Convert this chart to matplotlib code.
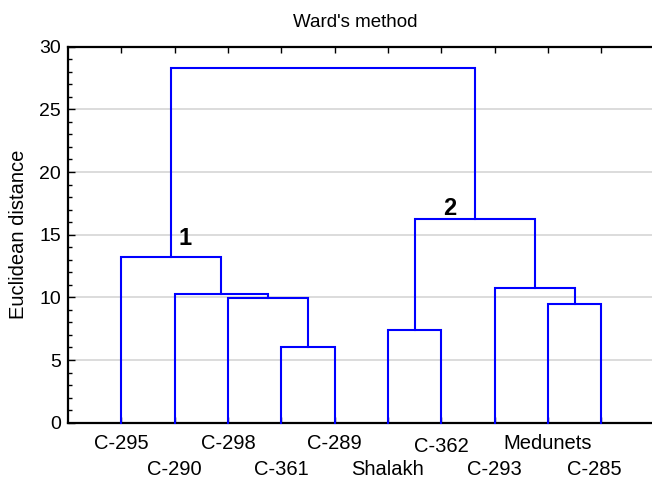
import matplotlib
matplotlib.use('Agg')
import numpy as np
from matplotlib import pyplot as plt
from matplotlib.ticker import MultipleLocator
import matplotlib.transforms as mtransforms

plt.rcParams['font.family'] = ['Liberation Sans', 'DejaVu Sans']

# leaves in plotted order
leaves = ['C-295', 'C-290', 'C-298', 'C-361', 'C-289',
          'Shalakh', 'C-362', 'C-293', 'Medunets', 'C-285']

# merges: (child a, child b, height); new cluster ids start at 10
merges = [
    (3, 4, 6.07),
    (2, 10, 9.98),
    (1, 11, 10.25),
    (0, 12, 13.2),
    (5, 6, 7.4),
    (8, 9, 9.47),
    (7, 15, 10.75),
    (14, 16, 16.26),
    (13, 17, 28.3),
]

# label row (0 = upper, 1 = lower) and small shifts
label_row = [0, 1, 0, 1, 0, 1, 0, 1, 0, 1]
label_dx = [0, 0, 0, 0, 0, 0, 0, 0, 0, -0.13]
label_y = {0: -0.069, 1: -0.138}
label_dy = [0, 0, 0, 0, 0, 0, -0.009, -0.002, 0, 0]

fig = plt.figure(figsize=(6.52, 4.78), dpi=100)
ax = fig.add_axes([0.1043, 0.1157, 0.8957, 0.7866])

xpos = {i: i + 1 for i in range(len(leaves))}
ypos = {i: 0.0 for i in range(len(leaves))}
for k, (a, b, h) in enumerate(merges):
    xa, xb = xpos[a], xpos[b]
    ax.plot([xa, xa, xb, xb], [ypos[a], h, h, ypos[b]], color='#0000ff', lw=1.5,
            solid_joinstyle='miter', zorder=3, clip_on=False)
    nid = len(leaves) + k
    xpos[nid] = (xa + xb) / 2
    ypos[nid] = h

ax.set_xlim(0, 10.95)
ax.set_ylim(0, 30)
ax.yaxis.set_major_locator(MultipleLocator(5))
ax.yaxis.set_minor_locator(MultipleLocator(1))
ax.set_xticks(range(1, len(leaves) + 1))
ax.set_xticklabels([])
ax.tick_params(axis='x', direction='in', top=True, bottom=True, length=4, width=1)
ax.tick_params(axis='y', which='major', direction='in', length=5, width=1,
               labelsize=14, pad=5)
ax.tick_params(axis='y', which='minor', direction='in', length=3, width=1)
ax.grid(axis='y', color='#d9d9d9', lw=1.3, zorder=0)
ax.set_axisbelow(True)

ax.spines['right'].set_visible(False)
for s in ['left', 'top', 'bottom']:
    ax.spines[s].set_linewidth(1.6)

trans = mtransforms.blended_transform_factory(ax.transData, ax.transAxes)
for i, name in enumerate(leaves):
    ax.text(i + 1 + label_dx[i], label_y[label_row[i]] + label_dy[i], name,
            transform=trans, ha='center', va='baseline', fontsize=14.5)

ax.text(2.2, 14.66, '1', fontsize=17, fontweight='bold', ha='center', va='center')
ax.text(7.16, 17.1, '2', fontsize=17, fontweight='bold', ha='center', va='center')

ax.set_ylabel('Euclidean distance', fontsize=14.5, labelpad=8)
ax.set_title("Ward's method", fontsize=13.5, pad=14, x=(355 - 68) / 584)

fig.savefig('out.png', dpi=100)
